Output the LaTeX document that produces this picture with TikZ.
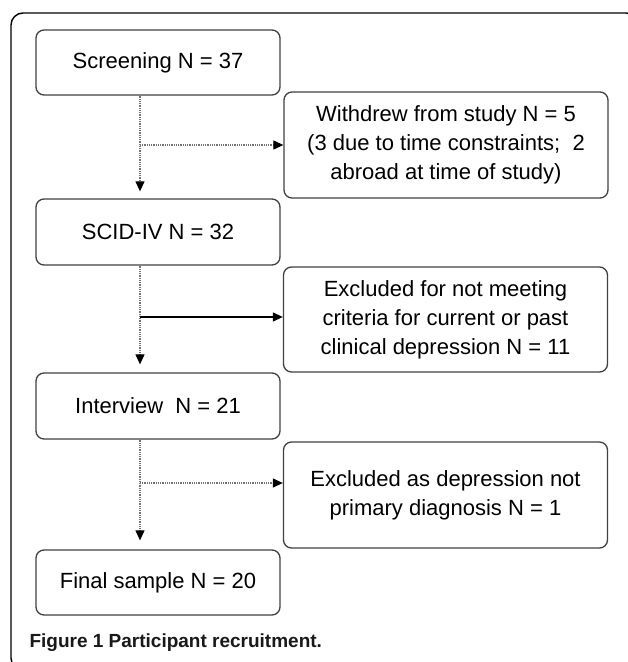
\documentclass[tikz,border=0pt]{standalone}
\usepackage{fontspec}
\setmainfont{Liberation Sans}
\usetikzlibrary{arrows.meta}

\begin{document}
\begin{tikzpicture}[x=1pt,y=-1pt,
  stage/.style={draw=black!75, line width=1.3pt, rounded corners=8pt, align=center,
    inner sep=0pt, font=\fontsize{22}{29}\selectfont},
  leftbox/.style={stage, minimum width=244pt, minimum height=65pt},
  rightbox/.style={stage, minimum width=324pt, minimum height=106pt},
  flow/.style={line width=1.2pt, black!55, dash pattern=on 1pt off 0.8pt,
    -{Triangle[length=10pt,width=9pt,color=black]}},
  solidflow/.style={flow, black, solid}]
 \useasboundingbox (0,0) rectangle (628,662);
 \draw[line width=1.4pt, rounded corners=12pt] (11,13) rectangle (638,670);
 % main column
 \node[leftbox] (screen) at (158,62.5) {Screening N = 37};
 \node[leftbox, minimum height=66pt] (scid) at (158,232) {SCID-IV N = 32};
 \node[leftbox, minimum height=66pt] (interview) at (158,406) {Interview\ \ N = 21};
 \node[leftbox] (final) at (158,582.5) {Final sample N = 20};
 % exclusions
 \node[rightbox] (withdrew) at (446,145) {Withdrew from study N = 5\\(3 due to time constraints;\ \ 2\\abroad at time of study)};
 \node[rightbox, minimum height=105pt] (notmet) at (445.5,319.5) {Excluded for not meeting\\criteria for current or past\\clinical depression N = 11};
 \node[rightbox] (notprimary) at (445.5,495) {Excluded as depression not\\primary diagnosis N = 1};
 \node[anchor=west, text=black!90, font=\fontsize{19}{19}\selectfont\bfseries] (caption) at (26,643) {Figure 1 Participant recruitment.};
 \coordinate (split1) at (140,145);
 \coordinate (split2) at (140,317);
 \coordinate (split3) at (140,483);
 \draw[flow, shorten >=7pt] (screen.south -| split1) -- (scid.north -| split1);
 \draw[flow, shorten >=8pt] (scid.south -| split2) -- (interview.north -| split2);
 \draw[flow, shorten >=9pt] (interview.south -| split3) -- (final.north -| split3);
 \draw[flow] (split1) -- (withdrew.west |- split1);
 \draw[solidflow] (split2) -- (notmet.west |- split2);
 \draw[flow] (split3) -- (notprimary.west |- split3);
\end{tikzpicture}
\end{document}
